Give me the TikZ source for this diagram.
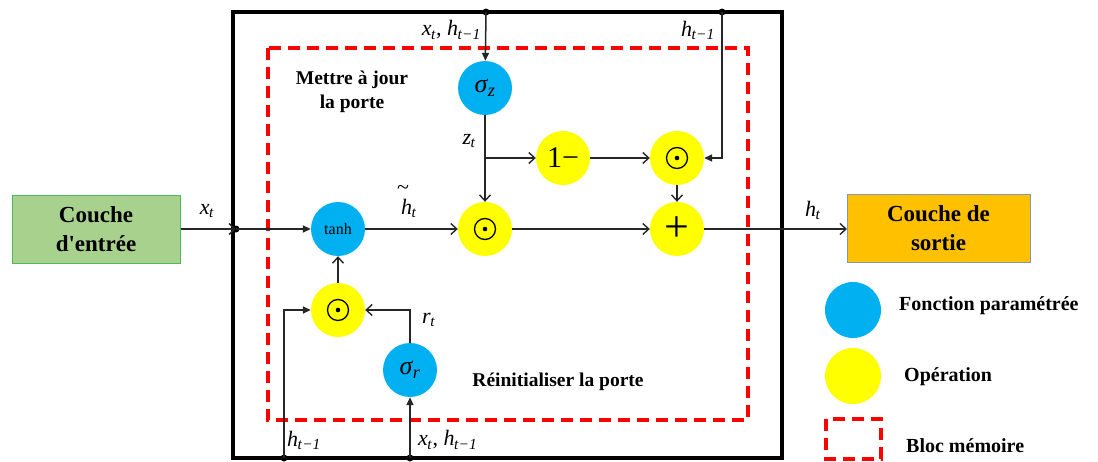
\documentclass[tikz,border=0pt]{standalone}
\usepackage{fontspec}
\setmainfont{Liberation Serif}
\usetikzlibrary{arrows.meta}
\definecolor{cblue}{HTML}{00B0F0}
\definecolor{cyellow}{HTML}{FFFF00}
\definecolor{cgreen}{HTML}{A9D18E}
\definecolor{cgreenb}{HTML}{4CB860}
\definecolor{corange}{HTML}{FFC000}
\definecolor{corangeb}{HTML}{8497B0}
\newcommand\vs[2]{\textit{#1}\textsubscript{\kern-0.5pt\textit{#2}}}
\newcommand\tm{\textit{t}\kern0.3pt−1}
\begin{document}
\begin{tikzpicture}[x=1pt,y=-1pt,
  conn/.style={line width=1.5pt, draw=black!85},
  barb/.style={-{Straight Barb[length=6pt,width=11pt,line width=1.4pt]}},
  tri/.style={-{Triangle[length=8pt,width=7pt]}},
  fn/.style={circle, fill=cblue, minimum size=54pt, inner sep=0pt},
  op/.style={circle, fill=cyellow, minimum size=54pt, inner sep=0pt},
  layer/.style={rectangle, minimum width=#1, minimum height=68pt, align=center, inner sep=0pt,
    font=\fontsize{23}{29}\selectfont\bfseries, line width=1pt},
  lbl/.style={font=\fontsize{22}{24}\selectfont, inner sep=0pt},
  bold/.style={font=\fontsize{19.5}{24}\selectfont\bfseries, align=center, inner sep=0pt},
  leg/.style={font=\fontsize{20}{24}\selectfont\bfseries, anchor=west, inner sep=0pt},
  memdash/.style={draw=red, line width=3.5pt, dash pattern=on 12pt off 7pt},
  jdot/.style={circle, fill=black, minimum size=7pt, inner sep=0pt}]
\useasboundingbox (0,0) rectangle (1098,461);
% frames
\draw[line width=3.5pt] (233,12) rectangle (782,458);
\draw[memdash] (268,48) rectangle (748,420);
% layers
\node[layer=168pt, fill=cgreen, draw=cgreenb] (in) at (96,229) {Couche\\d\textquotesingle entrée};
\node[layer=183pt, fill=corange, draw=corangeb] (out) at (938.5,228) {Couche de\\sortie};
% units
\node[fn] (sz) at (485,88) {\fontsize{26}{26}\selectfont\vs{σ}{z}};
\node[fn] (tanh) at (338,229) {\fontsize{16}{16}\selectfont tanh};
\node[op] (m) at (485,229) {};
\node[op] (om) at (563,158) {\fontsize{30}{30}\selectfont 1−};
\node[op] (tr) at (677,158) {};
\node[op] (plus) at (677,229) {\fontsize{44}{44}\selectfont\raisebox{-1pt}{+}};
\node[op] (b) at (338,310) {};
\node[fn] (sr) at (410,370) {\fontsize{26}{26}\selectfont\vs{σ}{r}};
\foreach \n in {m,tr,b} {
  \draw[line width=1.3pt] (\n.center) circle[radius=10.5pt];
  \fill (\n.center) circle[radius=2.3pt];
}
% junctions
\node[jdot] (dL) at (236,229) {};
\node[jdot] (dT1) at (486,12) {};
\node[jdot] (dT2) at (722,12) {};
\node[jdot] (dB1) at (284,458) {};
\node[jdot] (dB2) at (410,458) {};
\coordinate (zb) at (485,158);
\coordinate (oj) at (847,229);
% connectors
\draw[conn,barb] (in.east) -- (dL.center);
\draw[conn,tri] (dL.center) -- (tanh);
\draw[conn,barb] (tanh) -- (m);
\draw[conn,barb] (m) -- (plus);
\draw[conn,barb] (plus) -- (oj);
\draw[conn,tri] (dT1.center) -- (sz);
\draw[conn] (sz) -- (zb);
\draw[conn,barb] (zb) -- (m);
\draw[conn,barb] (zb) -- (om);
\draw[conn,barb] (om) -- (tr);
\draw[conn,tri] (dT2.center) |- (tr);
\draw[conn,barb] (tr) -- (plus);
\draw[conn,tri] (dB1.center) |- (b);
\draw[conn,tri] (dB2.center) -- (sr);
\draw[conn,barb] (sr) |- (b);
\draw[conn,barb] (b) -- (tanh);
% labels
\node[lbl] (lx) at (207,211) {\vs{x}{t}};
\node[lbl] (lht) at (409,208) {\vs{h}{t}};
\node[lbl, font=\fontsize{22}{22}\selectfont] (tld) at (403,190) {\textasciitilde};
\node[lbl] (lh) at (813,210) {\vs{h}{t}};
\node[lbl, anchor=east] (lz) at (476,141) {\vs{z}{t}};
\node[lbl, anchor=west] (lr) at (422,320) {\vs{r}{t}};
\node[lbl, anchor=east] (ltop1) at (481,30) {\vs{x}{t}, \vs{h}{\tm}};
\node[lbl, anchor=east] (ltop2) at (715,30) {\vs{h}{\tm}};
\node[lbl, anchor=west] (lbot1) at (287,440) {\vs{h}{\tm}};
\node[lbl, anchor=west] (lbot2) at (418,440) {\vs{x}{t}, \vs{h}{\tm}};
\node[bold] (upd) at (352,92) {Mettre à jour\\la porte};
\node[bold] (rst) at (558,382) {Réinitialiser la porte};
% legend
\node[fn, minimum size=56pt] (lg1) at (853,310) {};
\node[op, minimum size=56pt] (lg2) at (853,376) {};
\draw[memdash] (826,419) rectangle (881,459);
\node[leg] (t1) at (899,306) {Fonction paramétrée};
\node[leg] (t2) at (904,377) {Opération};
\node[leg] (t3) at (906,446) {Bloc mémoire};
\end{tikzpicture}
\end{document}
